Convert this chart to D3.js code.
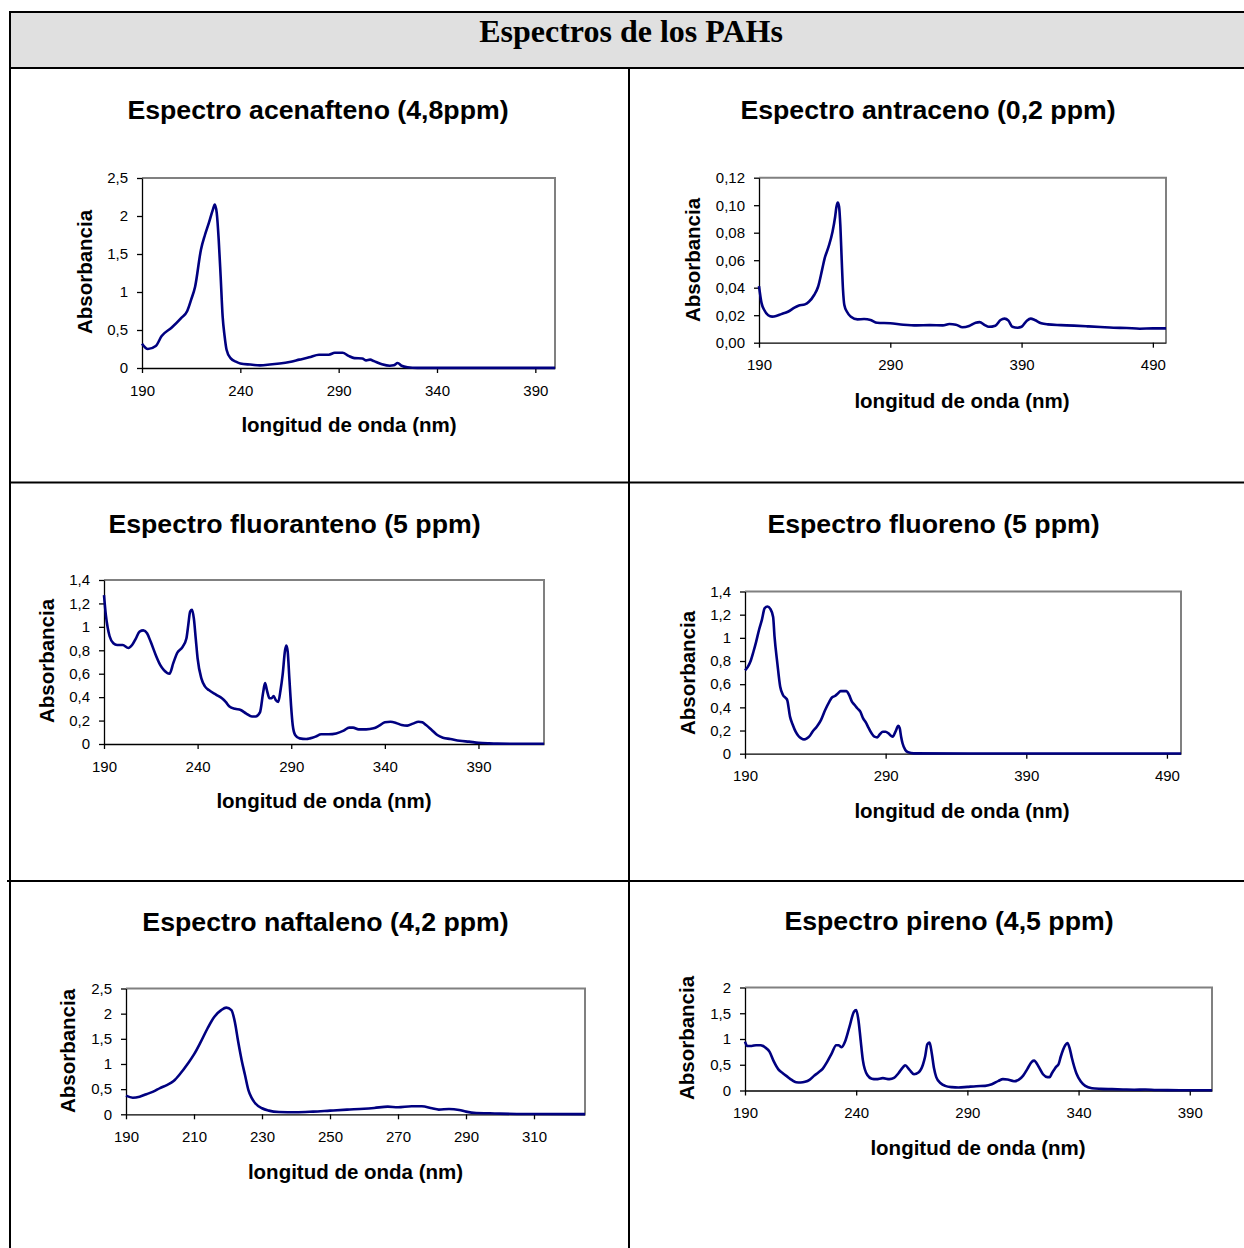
<!DOCTYPE html>
<html>
<head>
<meta charset="utf-8">
<script src="https://cdn.jsdelivr.net/npm/d3@7"></script>
<style>
  body { margin: 0; background: #fff; }
  svg { display: block; font-family: Arial, "Liberation Sans", sans-serif; }
</style>
</head>
<body>
<svg id="chart" width="1244" height="1248"></svg>
<script>
// --- data: [wavelength nm, absorbance] ---
const acenafteno = [
  [190, 0.32], [193, 0.25], [197, 0.29], [200, 0.42], [205, 0.53], [210, 0.66], [213, 0.75],
  [215, 0.9], [217, 1.07], [220, 1.56], [222, 1.75], [224, 1.91], [226, 2.08], [227, 2.15],
  [228, 2.04], [229, 1.69], [230, 1.2], [231, 0.68], [232, 0.42], [233, 0.24], [235, 0.13],
  [238, 0.08], [240, 0.06], [245, 0.045], [250, 0.035], [255, 0.045], [260, 0.06], [265, 0.08],
  [270, 0.11], [275, 0.14], [280, 0.175], [285, 0.175], [288, 0.2], [292, 0.2], [295, 0.16],
  [298, 0.13], [302, 0.125], [304, 0.1], [306, 0.11], [308, 0.09], [312, 0.05], [316, 0.03],
  [318, 0.035], [320, 0.065], [322, 0.03], [325, 0.01], [330, 0.002], [360, 0.001], [400, 0.001]
];

const antraceno = [
  [190, 0.0412], [192, 0.0286], [194, 0.0238], [197, 0.020], [200, 0.019], [203, 0.0194],
  [207, 0.0208], [212, 0.0225], [217, 0.0255], [220, 0.0269], [225, 0.0279], [228, 0.0298],
  [232, 0.0347], [235, 0.0407], [238, 0.0528], [240, 0.0613], [243, 0.0698], [246, 0.0807],
  [248, 0.0916], [249, 0.0989], [250, 0.102], [251, 0.0989], [252, 0.0844], [253, 0.0601],
  [254, 0.0383], [255, 0.0274], [257, 0.0225], [260, 0.0189], [265, 0.017], [270, 0.0172],
  [275, 0.0165], [280, 0.0145], [290, 0.0141], [300, 0.0131], [310, 0.0126], [320, 0.0128],
  [330, 0.0126], [335, 0.0136], [340, 0.0131], [345, 0.0112], [350, 0.0121], [355, 0.0145],
  [358, 0.015], [362, 0.0128], [365, 0.0116], [370, 0.0124], [374, 0.0165], [377, 0.0175],
  [380, 0.016], [383, 0.0116], [387, 0.0109], [390, 0.0116], [394, 0.016], [397, 0.0175],
  [400, 0.0165], [405, 0.0141], [410, 0.0133], [420, 0.0128], [430, 0.0124], [440, 0.0119],
  [450, 0.0114], [460, 0.0109], [470, 0.0107], [480, 0.0102], [490, 0.0104], [500, 0.0104]
];

const fluoranteno = [
  [190, 1.27], [191, 1.10], [192, 0.99], [193, 0.92], [195, 0.86], [197, 0.845], [200, 0.845],
  [203, 0.82], [205, 0.845], [207, 0.90], [209, 0.96], [211, 0.97], [213, 0.945], [215, 0.87],
  [218, 0.745], [220, 0.675], [222, 0.63], [225, 0.60], [227, 0.69], [229, 0.775], [232, 0.83],
  [234, 0.90], [235, 1.015], [236, 1.13], [237, 1.145], [238, 1.07], [239, 0.90], [240, 0.73],
  [242, 0.56], [244, 0.49], [246, 0.46], [250, 0.42], [253, 0.39], [255, 0.36], [257, 0.32],
  [260, 0.30], [263, 0.29], [266, 0.26], [269, 0.235], [271, 0.235], [273.3, 0.27],
  [275, 0.44], [276, 0.52], [277, 0.46], [278.4, 0.39], [279.5, 0.39], [280.6, 0.41],
  [281.7, 0.376], [283.1, 0.36], [284.2, 0.45], [285.4, 0.59], [286.7, 0.80], [287.4, 0.84],
  [288.1, 0.79], [289, 0.56], [289.9, 0.33], [290.8, 0.16], [292.1, 0.077], [294.5, 0.048],
  [298, 0.043], [300, 0.048], [303, 0.063], [306, 0.083], [310, 0.083], [314, 0.09],
  [318, 0.114], [321, 0.14], [323, 0.14], [326, 0.125], [330, 0.125], [334, 0.134],
  [337, 0.157], [340, 0.185], [343, 0.19], [346, 0.18], [349, 0.162], [352, 0.157],
  [355, 0.174], [358, 0.19], [360, 0.185], [362, 0.162], [365, 0.12], [368, 0.077],
  [371, 0.054], [375, 0.043], [380, 0.028], [385, 0.02], [390, 0.011], [395, 0.006],
  [400, 0.003], [425, 0.002]
];

const fluoreno = [
  [190, 0.72], [192, 0.75], [194, 0.80], [196, 0.88], [198, 0.97], [200, 1.07], [202, 1.155],
  [204, 1.256], [206, 1.27], [208, 1.25], [210, 1.18], [211, 1.01], [213, 0.78], [215, 0.58],
  [217, 0.507], [219, 0.48], [220, 0.464], [222, 0.32], [224, 0.248], [226, 0.19], [228, 0.153],
  [230, 0.133], [232, 0.124], [234, 0.133], [236, 0.153], [238, 0.19], [241, 0.233],
  [244, 0.29], [247, 0.377], [250, 0.45], [252, 0.487], [254, 0.498], [256, 0.52], [258, 0.54],
  [260, 0.54], [262, 0.54], [264, 0.507], [266, 0.45], [268, 0.42], [270, 0.39], [272, 0.363],
  [274, 0.305], [276, 0.268], [278, 0.22], [280, 0.176], [282, 0.147], [284, 0.141],
  [286, 0.17], [288, 0.19], [290, 0.19], [292, 0.176], [294, 0.153], [295, 0.147],
  [297, 0.19], [299, 0.24], [300, 0.22], [301, 0.147], [302, 0.09], [304, 0.032],
  [306, 0.012], [310, 0.003], [350, 0.002], [420, 0.002], [500, 0.002]
];

const naftaleno = [
  [190, 0.37], [192, 0.33], [194, 0.35], [196, 0.40], [198, 0.45], [200, 0.52], [202, 0.58],
  [204, 0.66], [206, 0.81], [208, 0.99], [210, 1.19], [212, 1.44], [214, 1.71], [216, 1.94],
  [218, 2.07], [219.5, 2.12], [221, 2.07], [222, 1.84], [223, 1.44], [224, 1.08], [225, 0.78],
  [226, 0.48], [227, 0.32], [228, 0.22], [230, 0.12], [232, 0.073], [235, 0.046], [240, 0.04],
  [245, 0.053], [250, 0.073], [255, 0.093], [260, 0.11], [263, 0.126], [267, 0.152],
  [270, 0.139], [274, 0.159], [277, 0.159], [280, 0.119], [282, 0.093], [285, 0.106],
  [288, 0.086], [290, 0.053], [293, 0.026], [297, 0.02], [300, 0.013], [305, 0.007],
  [310, 0.005], [325, 0.004]
];

const pireno = [
  [190, 0.95], [191, 0.865], [193, 0.865], [195, 0.88], [197, 0.88], [199, 0.84], [201, 0.755],
  [203, 0.56], [205, 0.41], [207, 0.335], [209, 0.27], [211, 0.206], [213, 0.16], [215, 0.155],
  [217, 0.168], [219, 0.206], [221, 0.284], [223, 0.35], [225, 0.426], [227, 0.56], [229, 0.72],
  [231, 0.88], [232, 0.88], [233.5, 0.84], [235, 0.95], [237, 1.24], [239, 1.53], [240, 1.56],
  [241, 1.37], [242, 0.98], [243, 0.59], [245, 0.30], [247, 0.23], [249, 0.22], [252, 0.24],
  [255, 0.22], [257, 0.245], [259, 0.335], [261, 0.45], [262, 0.49], [264, 0.40], [266, 0.316],
  [268, 0.35], [270, 0.50], [271, 0.66], [272, 0.90], [273, 0.93], [274, 0.72], [275, 0.43],
  [276, 0.26], [278, 0.14], [280, 0.09], [283, 0.065], [286, 0.058], [290, 0.071], [294, 0.084],
  [298, 0.09], [301, 0.12], [304, 0.187], [306, 0.22], [308, 0.213], [311, 0.18], [313, 0.206],
  [315, 0.284], [317, 0.42], [319, 0.56], [320, 0.58], [322, 0.465], [324, 0.316], [326, 0.26],
  [327, 0.26], [328, 0.335], [330, 0.465], [331, 0.51], [332, 0.66], [334, 0.88], [335, 0.92],
  [336, 0.82], [337, 0.63], [339, 0.335], [341, 0.174], [343, 0.09], [346, 0.045], [350, 0.032],
  [355, 0.026], [360, 0.02], [365, 0.015], [370, 0.02], [375, 0.01], [380, 0.008],
  [390, 0.005], [400, 0.004]
];

// tick labels
const ticks50 = [190, 240, 290, 340, 390];
const ticks100 = [190, 290, 390, 490];
const ticks20 = [190, 210, 230, 250, 270, 290, 310];

const titles = [
  'Espectro acenafteno (4,8ppm)', 'Espectro antraceno (0,2 ppm)',
  'Espectro fluoranteno (5 ppm)', 'Espectro fluoreno (5 ppm)',
  'Espectro naftaleno (4,2 ppm)', 'Espectro pireno (4,5 ppm)'
];

const es = d3.formatLocale({ decimal: ',', thousands: '.', grouping: [3], currency: ['', ' €'] });
const fmtShort = es.format('~f');
const fmt2 = es.format('.2f');

// panel layout (pixels) — one per chart
const panels = [
  { data: acenafteno, title: titles[0], xDomain: [190, 400], xTicks: ticks50, yDomain: [0, 2.5], yStep: 0.5, fmt: fmtShort,
    left: 142, right: 555, top: 178, bottom: 368, titleX: 318, titleY: 119, yLabX: 92, yLabY: 272, xLabX: 349, xLabY: 432 },
  { data: antraceno, title: titles[1], xDomain: [190, 500], xTicks: ticks100, yDomain: [0, 0.12], yStep: 0.02, fmt: fmt2,
    left: 759, right: 1166, top: 177.7, bottom: 342.7, titleX: 928, titleY: 119, yLabX: 700, yLabY: 260, xLabX: 962, xLabY: 408 },
  { data: fluoranteno, title: titles[2], xDomain: [190, 425], xTicks: ticks50, yDomain: [0, 1.4], yStep: 0.2, fmt: fmtShort,
    left: 104, right: 544, top: 580, bottom: 744, titleX: 294.5, titleY: 533, yLabX: 54, yLabY: 661, xLabX: 324, xLabY: 808 },
  { data: fluoreno, title: titles[3], xDomain: [190, 500], xTicks: ticks100, yDomain: [0, 1.4], yStep: 0.2, fmt: fmtShort,
    left: 745, right: 1181, top: 591.5, bottom: 753.7, titleX: 933.5, titleY: 533, yLabX: 695, yLabY: 673, xLabX: 962, xLabY: 818 },
  { data: naftaleno, title: titles[4], xDomain: [190, 325], xTicks: ticks20, yDomain: [0, 2.5], yStep: 0.5, fmt: fmtShort,
    left: 126, right: 585, top: 988.5, bottom: 1114.3, titleX: 325.5, titleY: 931, yLabX: 75, yLabY: 1051, xLabX: 355.5, xLabY: 1179 },
  { data: pireno, title: titles[5], xDomain: [190, 400], xTicks: ticks50, yDomain: [0, 2], yStep: 0.5, fmt: fmtShort,
    left: 745, right: 1212, top: 987.5, bottom: 1090.5, titleX: 949, titleY: 930, yLabX: 694, yLabY: 1038, xLabX: 978, xLabY: 1155 }
];

const svg = d3.select('#chart');

// --- table frame ---
svg.append('rect').attr('x', 10).attr('y', 12).attr('width', 1240).attr('height', 56).attr('fill', '#e0e0e0');

const table = svg.append('g').attr('stroke', '#000').attr('stroke-width', 2).attr('fill', 'none');
table.append('line').attr('x1', 9).attr('x2', 1250).attr('y1', 12).attr('y2', 12);
table.append('line').attr('x1', 9).attr('x2', 1250).attr('y1', 68).attr('y2', 68);
table.append('line').attr('x1', 9).attr('x2', 1250).attr('y1', 482.5).attr('y2', 482.5);
table.append('line').attr('x1', 7).attr('x2', 1250).attr('y1', 881).attr('y2', 881);
table.append('line').attr('x1', 10).attr('x2', 10).attr('y1', 11).attr('y2', 1250);
table.append('line').attr('x1', 629).attr('x2', 629).attr('y1', 68).attr('y2', 1250);

svg.append('text')
  .attr('x', 631).attr('y', 42)
  .attr('text-anchor', 'middle')
  .attr('font-family', '"Liberation Serif", "Times New Roman", serif')
  .attr('font-weight', 'bold')
  .attr('font-size', 32)
  .text('Espectros de los PAHs');

// --- one spectrum per cell ---
function drawPanel(p) {
  const x = d3.scaleLinear().domain(p.xDomain).range([p.left, p.right]);
  const y = d3.scaleLinear().domain(p.yDomain).range([p.bottom, p.top]);
  const g = svg.append('g');

  // plot area border (grey top/right)
  g.append('path')
    .attr('d', `M${p.left},${p.top}H${p.right}V${p.bottom}`)
    .attr('fill', 'none')
    .attr('stroke', '#808080')
    .attr('stroke-width', 2);

  const yTicks = d3.range(0, Math.round(p.yDomain[1] / p.yStep) + 1).map((i) => +(i * p.yStep).toFixed(4));

  const xAxis = g.append('g')
    .attr('transform', `translate(0,${p.bottom})`)
    .call(d3.axisBottom(x).tickValues(p.xTicks).tickFormat(d3.format('d')).tickSize(5).tickSizeOuter(0).tickPadding(12));

  const yAxis = g.append('g')
    .attr('transform', `translate(${p.left},0)`)
    .call(d3.axisLeft(y).tickValues(yTicks).tickFormat(p.fmt).tickSize(5).tickSizeOuter(0).tickPadding(9));

  [xAxis, yAxis].forEach((a) => {
    a.selectAll('path, line').attr('stroke', '#000').attr('stroke-width', 1.3);
    a.selectAll('text').attr('font-size', 15).attr('fill', '#000')
      .attr('font-family', 'Arial, "Liberation Sans", sans-serif');
  });

  const line = d3.line()
    .x((d) => x(d[0]))
    .y((d) => y(d[1]))
    .curve(d3.curveMonotoneX);

  g.append('path')
    .datum(p.data)
    .attr('d', line)
    .attr('fill', 'none')
    .attr('stroke', '#000080')
    .attr('stroke-width', 2.6)
    .attr('stroke-linejoin', 'round');

  g.append('text')
    .attr('x', p.titleX).attr('y', p.titleY)
    .attr('text-anchor', 'middle')
    .attr('font-weight', 'bold')
    .attr('font-size', 26.7)
    .text(p.title);

  g.append('text')
    .attr('transform', `translate(${p.yLabX},${p.yLabY}) rotate(-90)`)
    .attr('text-anchor', 'middle')
    .attr('font-weight', 'bold')
    .attr('font-size', 20.5)
    .text('Absorbancia');

  g.append('text')
    .attr('x', p.xLabX).attr('y', p.xLabY)
    .attr('text-anchor', 'middle')
    .attr('font-weight', 'bold')
    .attr('font-size', 20.5)
    .text('longitud de onda (nm)');
}

panels.forEach(drawPanel);
</script>
</body>
</html>
